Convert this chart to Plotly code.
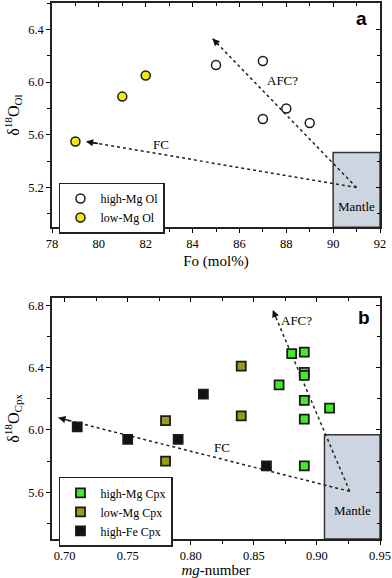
import plotly.graph_objects as go

# ---------------- data: panel a (olivine) ----------------
ol_high_x = [85, 87, 87, 88, 89]
ol_high_y = [6.13, 6.16, 5.72, 5.80, 5.69]
ol_low_x = [79, 81, 82]
ol_low_y = [5.55, 5.89, 6.05]
a_mantle_x = [90, 92]
a_mantle_y = [4.9, 5.467]
a_fc_x = [91.0, 79.45]
a_fc_y = [5.20, 5.55]
a_afc_x = [91.0, 84.85]
a_afc_y = [5.20, 6.33]
a_xrange = [78, 92]
a_yrange = [4.9, 6.6]

# ---------------- data: panel b (clinopyroxene) ----------------
cpx_highmg_x = [0.88, 0.89, 0.89, 0.89, 0.87, 0.89, 0.89, 0.91, 0.89]
cpx_highmg_y = [6.49, 6.50, 6.37, 6.35, 6.29, 6.19, 6.07, 6.14, 5.77]
cpx_lowmg_x = [0.84, 0.84, 0.78, 0.78]
cpx_lowmg_y = [6.41, 6.09, 6.06, 5.80]
cpx_highfe_x = [0.71, 0.75, 0.79, 0.81, 0.86]
cpx_highfe_y = [6.02, 5.94, 5.94, 6.23, 5.77]
b_mantle_x = [0.906, 0.95]
b_mantle_y = [5.3, 5.97]
b_fc_x = [0.926, 0.695]
b_fc_y = [5.606, 6.078]
b_afc_x = [0.926, 0.865]
b_afc_y = [5.606, 6.77]
b_xrange = [0.69, 0.95]
b_yrange = [5.3, 6.85]

SERIF = "Liberation Serif"
SANS = "Liberation Sans"
EDGE = "#1a1a1a"

fig = go.Figure()

# --- panel a traces ---
fig.add_trace(go.Scatter(x=a_fc_x, y=a_fc_y, mode="lines", line=dict(color="#222", width=1.5, dash="dot"),
                         showlegend=False, hoverinfo="skip", xaxis="x", yaxis="y"))
fig.add_trace(go.Scatter(x=a_afc_x, y=a_afc_y, mode="lines", line=dict(color="#222", width=1.5, dash="dot"),
                         showlegend=False, hoverinfo="skip", xaxis="x", yaxis="y"))
fig.add_trace(go.Scatter(x=ol_high_x, y=ol_high_y, mode="markers", name="high-Mg Ol",
                         marker=dict(symbol="circle", size=9, color="white", line=dict(color=EDGE, width=1.5)),
                         xaxis="x", yaxis="y", legend="legend"))
fig.add_trace(go.Scatter(x=ol_low_x, y=ol_low_y, mode="markers", name="low-Mg Ol",
                         marker=dict(symbol="circle", size=9, color="#f4e514", line=dict(color=EDGE, width=1.5)),
                         xaxis="x", yaxis="y", legend="legend"))

# --- panel b traces ---
fig.add_trace(go.Scatter(x=b_fc_x, y=b_fc_y, mode="lines", line=dict(color="#222", width=1.5, dash="dot"),
                         showlegend=False, hoverinfo="skip", xaxis="x2", yaxis="y2"))
fig.add_trace(go.Scatter(x=b_afc_x, y=b_afc_y, mode="lines", line=dict(color="#222", width=1.5, dash="dot"),
                         showlegend=False, hoverinfo="skip", xaxis="x2", yaxis="y2"))
fig.add_trace(go.Scatter(x=cpx_highmg_x, y=cpx_highmg_y, mode="markers", name="high-Mg Cpx",
                         marker=dict(symbol="square", size=9, color="#44e82c", line=dict(color=EDGE, width=1.8)),
                         xaxis="x2", yaxis="y2", legend="legend2"))
fig.add_trace(go.Scatter(x=cpx_lowmg_x, y=cpx_lowmg_y, mode="markers", name="low-Mg Cpx",
                         marker=dict(symbol="square", size=9, color="#9c9c12", line=dict(color=EDGE, width=1.8)),
                         xaxis="x2", yaxis="y2", legend="legend2"))
fig.add_trace(go.Scatter(x=cpx_highfe_x, y=cpx_highfe_y, mode="markers", name="high-Fe Cpx",
                         marker=dict(symbol="square", size=9, color="#111111", line=dict(color=EDGE, width=1.8)),
                         xaxis="x2", yaxis="y2", legend="legend2"))

# invisible traces for mirrored inward-tick axes
fig.add_trace(go.Scatter(x=[None], y=[None], xaxis="x3", yaxis="y3", showlegend=False, hoverinfo="skip"))
fig.add_trace(go.Scatter(x=[None], y=[None], xaxis="x4", yaxis="y4", showlegend=False, hoverinfo="skip"))

tickfont = dict(family=SERIF, size=12.5, color="black")
titlefont = dict(family=SERIF, size=15, color="black")

def main_axis(rng, dtick, tick0, minor_dtick, anchor, fmt, domain=None, title=None, standoff=None):
    d = dict(range=rng, tickmode="linear", tick0=tick0, dtick=dtick, tickformat=fmt, ticks="outside",
             ticklen=4, tickwidth=1.2, tickcolor="black", ticklabeloverflow="allow",
             minor=dict(ticks="outside", ticklen=3, dtick=minor_dtick, tick0=tick0, tickcolor="black",
                        tickwidth=1.2),
             showline=True, linecolor="#222", linewidth=1.5, mirror=True, showgrid=False,
             zeroline=False, tickfont=tickfont, anchor=anchor)
    if domain is not None:
        d["domain"] = domain
    if title is not None:
        d["title"] = dict(text=title, font=titlefont, standoff=standoff)
    return d

def overlay_axis(rng, dtick, tick0, minor_dtick, over, side, anchor):
    return dict(range=rng, tickmode="linear", tick0=tick0, dtick=dtick, ticks="inside", ticklen=4,
                tickwidth=1.2, tickcolor="black",
                minor=dict(ticks="inside", ticklen=3, dtick=minor_dtick, tick0=tick0, tickcolor="black",
                           tickwidth=1.2),
                showline=False, showgrid=False, zeroline=False, showticklabels=False,
                overlaying=over, side=side, anchor=anchor)

a_dom = [0.5818, 1.0]
b_dom = [0.0, 0.4504]

fig.update_layout(
    width=392, height=578,
    margin=dict(l=52, r=11, t=1, b=39),
    font=dict(family=SERIF, color="black"),
    paper_bgcolor="white", plot_bgcolor="white",
    xaxis=main_axis(a_xrange, 2, 78, 1, "y", "d", title="Fo (mol%)", standoff=6),
    yaxis=main_axis(a_yrange, 0.4, 5.2, 0.2, "x", ".1f", domain=a_dom,
                    title="δ<sup>18</sup>O<sub>Ol</sub>", standoff=5),
    xaxis2=main_axis(b_xrange, 0.05, 0.70, 0.025, "y2", ".2f", title="<i>mg</i>-number", standoff=4),
    yaxis2=main_axis(b_yrange, 0.4, 5.6, 0.2, "x2", ".1f", domain=b_dom,
                     title="δ<sup>18</sup>O<sub>Cpx</sub>", standoff=5),
    xaxis3=overlay_axis(a_xrange, 2, 78, 1, "x", "top", "y"),
    yaxis3=overlay_axis(a_yrange, 0.4, 5.2, 0.2, "y", "right", "x"),
    xaxis4=overlay_axis(b_xrange, 0.05, 0.70, 0.025, "x2", "top", "y2"),
    yaxis4=overlay_axis(b_yrange, 0.4, 5.6, 0.2, "y2", "right", "x2"),
    legend=dict(x=0.0213, y=0.665, xanchor="left", yanchor="top", bordercolor="#222", borderwidth=1.5,
                bgcolor="white", font=dict(family=SERIF, size=12, color="black"), itemwidth=30,
                tracegroupgap=0),
    legend2=dict(x=0.0213, y=0.1158, xanchor="left", yanchor="top", bordercolor="#222", borderwidth=1.5,
                 bgcolor="white", font=dict(family=SERIF, size=12, color="black"), itemwidth=30,
                 tracegroupgap=0),
    showlegend=True,
)
fig.layout.yaxis.title.font.size = 16
fig.layout.yaxis2.title.font.size = 16

# mantle boxes
fig.add_shape(type="rect", xref="x", yref="y", x0=a_mantle_x[0], x1=a_mantle_x[1], y0=a_mantle_y[0],
              y1=a_mantle_y[1], fillcolor="#cdd6e0", line=dict(color="#333", width=1.5), layer="below")
fig.add_shape(type="rect", xref="x2", yref="y2", x0=b_mantle_x[0], x1=b_mantle_x[1], y0=b_mantle_y[0],
              y1=b_mantle_y[1], fillcolor="#cdd6e0", line=dict(color="#333", width=1.5), layer="below")

# arrowheads at the tips of the dotted lines
def arrowhead(xs, ys, xref, yref):
    tx, ty = xs[1], ys[1]
    bx = tx + 0.05 * (xs[0] - tx)
    by = ty + 0.05 * (ys[0] - ty)
    fig.add_annotation(x=tx, y=ty, ax=bx, ay=by, xref=xref, yref=yref, axref=xref, ayref=yref,
                       text="", showarrow=True, arrowhead=2, arrowsize=1.1, arrowwidth=1.3,
                       arrowcolor="#111")

arrowhead(a_fc_x, a_fc_y, "x", "y")
arrowhead(a_afc_x, a_afc_y, "x", "y")
arrowhead(b_fc_x, b_fc_y, "x2", "y2")
arrowhead(b_afc_x, b_afc_y, "x2", "y2")

lab = dict(family=SERIF, size=13, color="black")
fig.add_annotation(x=82.65, y=5.53, xref="x", yref="y", text="FC", showarrow=False, font=lab)
fig.add_annotation(x=87.85, y=6.01, xref="x", yref="y", text="AFC?", showarrow=False, font=lab)
fig.add_annotation(x=91.0, y=5.06, xref="x", yref="y", text="Mantle", showarrow=False, font=lab)
fig.add_annotation(x=91.2, y=6.48, xref="x", yref="y", text="<b>a</b>", showarrow=False,
                   font=dict(family=SANS, size=19, color="black"))

fig.add_annotation(x=0.884, y=6.70, xref="x2", yref="y2", text="AFC?", showarrow=False, font=lab)
fig.add_annotation(x=0.8245, y=5.89, xref="x2", yref="y2", text="FC", showarrow=False, font=lab)
fig.add_annotation(x=0.928, y=5.48, xref="x2", yref="y2", text="Mantle", showarrow=False, font=lab)
fig.add_annotation(x=0.9376, y=6.725, xref="x2", yref="y2", text="<b>b</b>", showarrow=False,
                   font=dict(family=SANS, size=19, color="black"))

fig.write_html("out.html", config={"displayModeBar": False},
               post_script="document.body.style.margin='0';document.body.style.overflow='hidden';")
